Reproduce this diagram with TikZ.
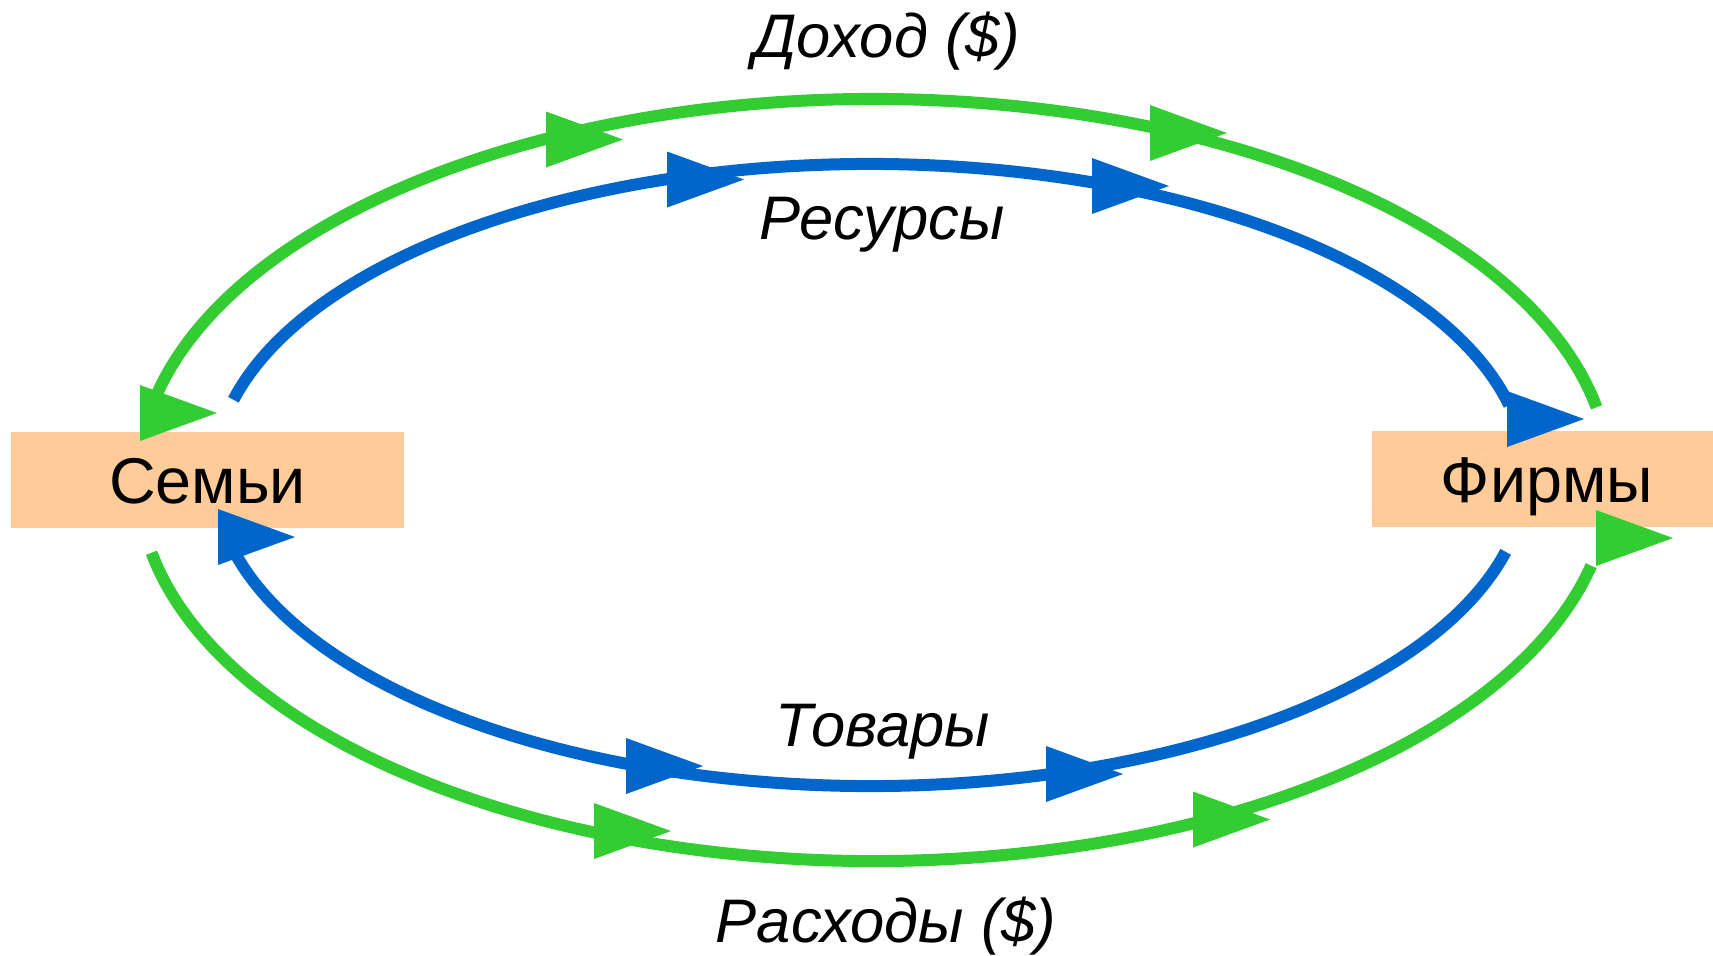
\documentclass[tikz,border=0pt]{standalone}
\usepackage{fontspec}
\setmainfont{Liberation Sans}
\definecolor{flowgreen}{RGB}{51,204,51}
\definecolor{flowblue}{RGB}{0,102,204}
\definecolor{peach}{RGB}{255,204,153}

\begin{document}
\begin{tikzpicture}[
   box/.style={fill=peach,minimum width=3.93cm,minimum height=0.96cm,inner sep=0pt,
      font=\fontsize{18.4}{22}\selectfont,text height=0.47cm,text depth=0pt},
   lbl/.style={font=\fontsize{17.5}{21}\selectfont\itshape,anchor=base},
   gflow/.style={draw=flowgreen,line width=0.12cm},
   bflow/.style={draw=flowblue,line width=0.12cm},
   tipmark/.pic={\fill (0,0.28) -- (0.77,0) -- (0,-0.28) -- cycle;}
] 
   \useasboundingbox (0,0) rectangle (17.13,-9.55);

   \node[box] (semyi) at (2.075,-4.80) {Семьи};
   \node[box,minimum width=3.5cm] (firmy) at (15.47,-4.79) {Фирмы};

   \node[lbl] (dohod)   at (8.87,-0.57) {Доход (\$)};
   \node[lbl] (resursy) at (8.82,-2.39) {Ресурсы};
   \node[lbl] (tovary)  at (8.83,-7.46) {Товары};
   \node[lbl] (rashody) at (8.86,-9.42) {Расходы (\$)};

   % centres of the two loops
   \coordinate (gc) at (8.74,-4.80);
   \coordinate (bc) at (8.70,-4.75);

   \draw[gflow] (gc) ++(168:7.36 and 3.81)
      arc[start angle=168,end angle=11,x radius=7.36,y radius=3.81];
   \draw[gflow] (gc) ++(191:7.36 and 3.81)
      arc[start angle=191,end angle=347,x radius=7.36,y radius=3.81];
   \draw[bflow] (bc) ++(166:6.56 and 3.11)
      arc[start angle=166,end angle=13,x radius=6.56,y radius=3.11];
   \draw[bflow] (bc) ++(345.7:6.56 and 3.11)
      arc[start angle=345.7,end angle=195,x radius=6.56,y radius=3.11];

   \foreach \p in {(1.40,-4.13),(5.46,-1.395),(11.50,-1.33),(15.96,-5.38),(5.94,-8.31),(11.93,-8.195)}
      \pic[flowgreen] at \p {tipmark};
   \foreach \p in {(2.18,-5.37),(6.67,-1.795),(10.92,-1.86),(15.07,-4.19),(6.26,-7.66),(10.46,-7.74)}
      \pic[flowblue] at \p {tipmark};
\end{tikzpicture}
\end{document}
